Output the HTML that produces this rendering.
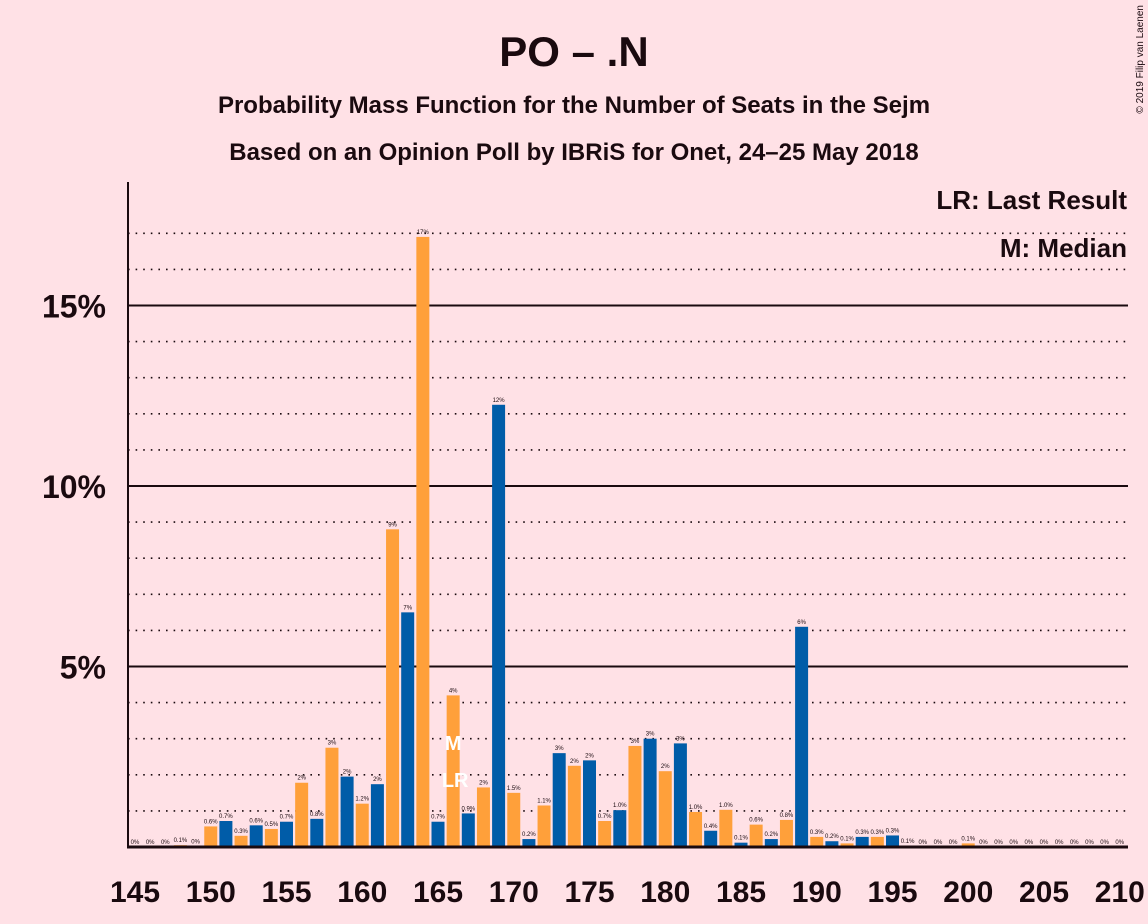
<!DOCTYPE html>
<html><head><meta charset="utf-8"><style>
body{margin:0;background:#ffe1e6;}
svg{display:block;font-family:"Liberation Sans",sans-serif;}
</style></head><body>
<svg id="chart" width="1148" height="924" viewBox="0 0 1148 924">
<rect width="1148" height="924" fill="#ffe1e6"/>
<text x="574" y="66" text-anchor="middle" font-size="42" font-weight="bold" fill="#1a0a0f">PO – .N</text>
<text x="574" y="113" text-anchor="middle" font-size="24" font-weight="bold" fill="#1a0a0f">Probability Mass Function for the Number of Seats in the Sejm</text>
<text x="574" y="160" text-anchor="middle" font-size="24" font-weight="bold" fill="#1a0a0f">Based on an Opinion Poll by IBRiS for Onet, 24–25 May 2018</text>
<text x="1143" y="5" transform="rotate(-90 1143 5)" text-anchor="end" font-size="10" fill="#1a0a0f">© 2019 Filip van Laenen</text>
<g id="grid"></g>
<g id="bars"></g>
<text x="1127" y="209" text-anchor="end" font-size="26" font-weight="bold" fill="#1a0a0f">LR: Last Result</text>
<text x="1127" y="257" text-anchor="end" font-size="26" font-weight="bold" fill="#1a0a0f">M: Median</text>
<line x1="128" y1="182" x2="128" y2="848" stroke="#1a0a0f" stroke-width="2"/>
<line x1="127" y1="847" x2="1128" y2="847" stroke="#1a0a0f" stroke-width="3"/>
</svg>
<script>
const seats = [145,146,147,148,149,150,151,152,153,154,155,156,157,158,159,160,161,162,163,164,165,166,167,168,169,170,171,172,173,174,175,176,177,178,179,180,181,182,183,184,185,186,187,188,189,190,191,192,193,194,195,196,197,198,199,200,201,202,203,204,205,206,207,208,209,210];
const probs = [0,0,0,0.05,0.02,0.57,0.72,0.31,0.6,0.5,0.7,1.78,0.78,2.75,1.95,1.2,1.74,8.8,6.5,16.9,0.7,4.2,0.93,1.65,12.25,1.5,0.22,1.15,2.6,2.25,2.4,0.72,1.02,2.8,3.0,2.1,2.87,0.97,0.45,1.03,0.12,0.62,0.22,0.75,6.1,0.28,0.16,0.1,0.28,0.28,0.32,0.03,0,0,0,0.1,0,0,0,0,0,0,0,0,0,0];
const labels = ["0%","0%","0%","0.1%","0%","0.6%","0.7%","0.3%","0.6%","0.5%","0.7%","2%","0.8%","3%","2%","1.2%","2%","9%","7%","17%","0.7%","4%","0.9%","2%","12%","1.5%","0.2%","1.1%","3%","2%","2%","0.7%","1.0%","3%","3%","2%","3%","1.0%","0.4%","1.0%","0.1%","0.6%","0.2%","0.8%","6%","0.3%","0.2%","0.1%","0.3%","0.3%","0.3%","0.1%","0%","0%","0%","0.1%","0%","0%","0%","0%","0%","0%","0%","0%","0%","0%"];
const xTicks = [145,150,155,160,165,170,175,180,185,190,195,200,205,210];
const yTicks = [5,10,15];
const ns="http://www.w3.org/2000/svg";
const X = s => 135 + (s-145)*15.15;
const Y = p => 847 - p*36.1;
const grid=document.getElementById('grid'), bars=document.getElementById('bars'), svg=document.getElementById('chart');
for(let p=1;p<=17;p++){
  const l=document.createElementNS(ns,'line');
  l.setAttribute('x1',128);l.setAttribute('x2',1128);l.setAttribute('y1',Y(p));l.setAttribute('y2',Y(p));
  l.setAttribute('stroke','#1a0a0f');
  if(p%5===0){l.setAttribute('stroke-width','2');}else{l.setAttribute('stroke-width','1.6');l.setAttribute('stroke-dasharray','1.6 6');}
  
  
  grid.appendChild(l);
}
yTicks.forEach(t=>{
  const tx=document.createElementNS(ns,'text');
  tx.setAttribute('x',106);tx.setAttribute('y',Y(t)+12);tx.setAttribute('text-anchor','end');
  tx.setAttribute('font-size','32');tx.setAttribute('font-weight','bold');tx.setAttribute('fill','#1a0a0f');
  tx.textContent=t+'%';
  
  
  svg.appendChild(tx);
});
xTicks.forEach(t=>{
  const tx=document.createElementNS(ns,'text');
  tx.setAttribute('x',X(t));tx.setAttribute('y',902);tx.setAttribute('text-anchor','middle');
  tx.setAttribute('font-size','30');tx.setAttribute('font-weight','bold');tx.setAttribute('fill','#1a0a0f');
  tx.textContent=t;
  
  
  svg.appendChild(tx);
});
seats.forEach((s,i)=>{
  const p=probs[i];
  const r=document.createElementNS(ns,'rect');
  r.setAttribute('x',X(s)-6.5);r.setAttribute('width',13);
  r.setAttribute('y',Y(p));r.setAttribute('height',847-Y(p));
  r.setAttribute('fill',s%2===0?'#ffa03a':'#005ca8');
  
  
  bars.appendChild(r);
  const t=document.createElementNS(ns,'text');
  t.setAttribute('x',X(s));t.setAttribute('y',Y(p)-3);t.setAttribute('text-anchor','middle');
  t.setAttribute('font-size','6');t.setAttribute('fill','#1a0a0f');
  t.textContent=labels[i];
  
  
  bars.appendChild(t);
});
const mx=X(166);
const m=document.createElementNS(ns,'text');
m.setAttribute('x',mx);m.setAttribute('y',750);m.setAttribute('text-anchor','middle');
m.setAttribute('font-size','20');m.setAttribute('font-weight','bold');m.setAttribute('fill','#ffffff');
m.textContent='M';


bars.appendChild(m);
const lr=document.createElementNS(ns,'text');
lr.setAttribute('x',mx+2);lr.setAttribute('y',787);lr.setAttribute('text-anchor','middle');
lr.setAttribute('font-size','20');lr.setAttribute('font-weight','bold');lr.setAttribute('fill','#ffffff');
lr.textContent='LR';


bars.appendChild(lr);
</script>
</body></html>
